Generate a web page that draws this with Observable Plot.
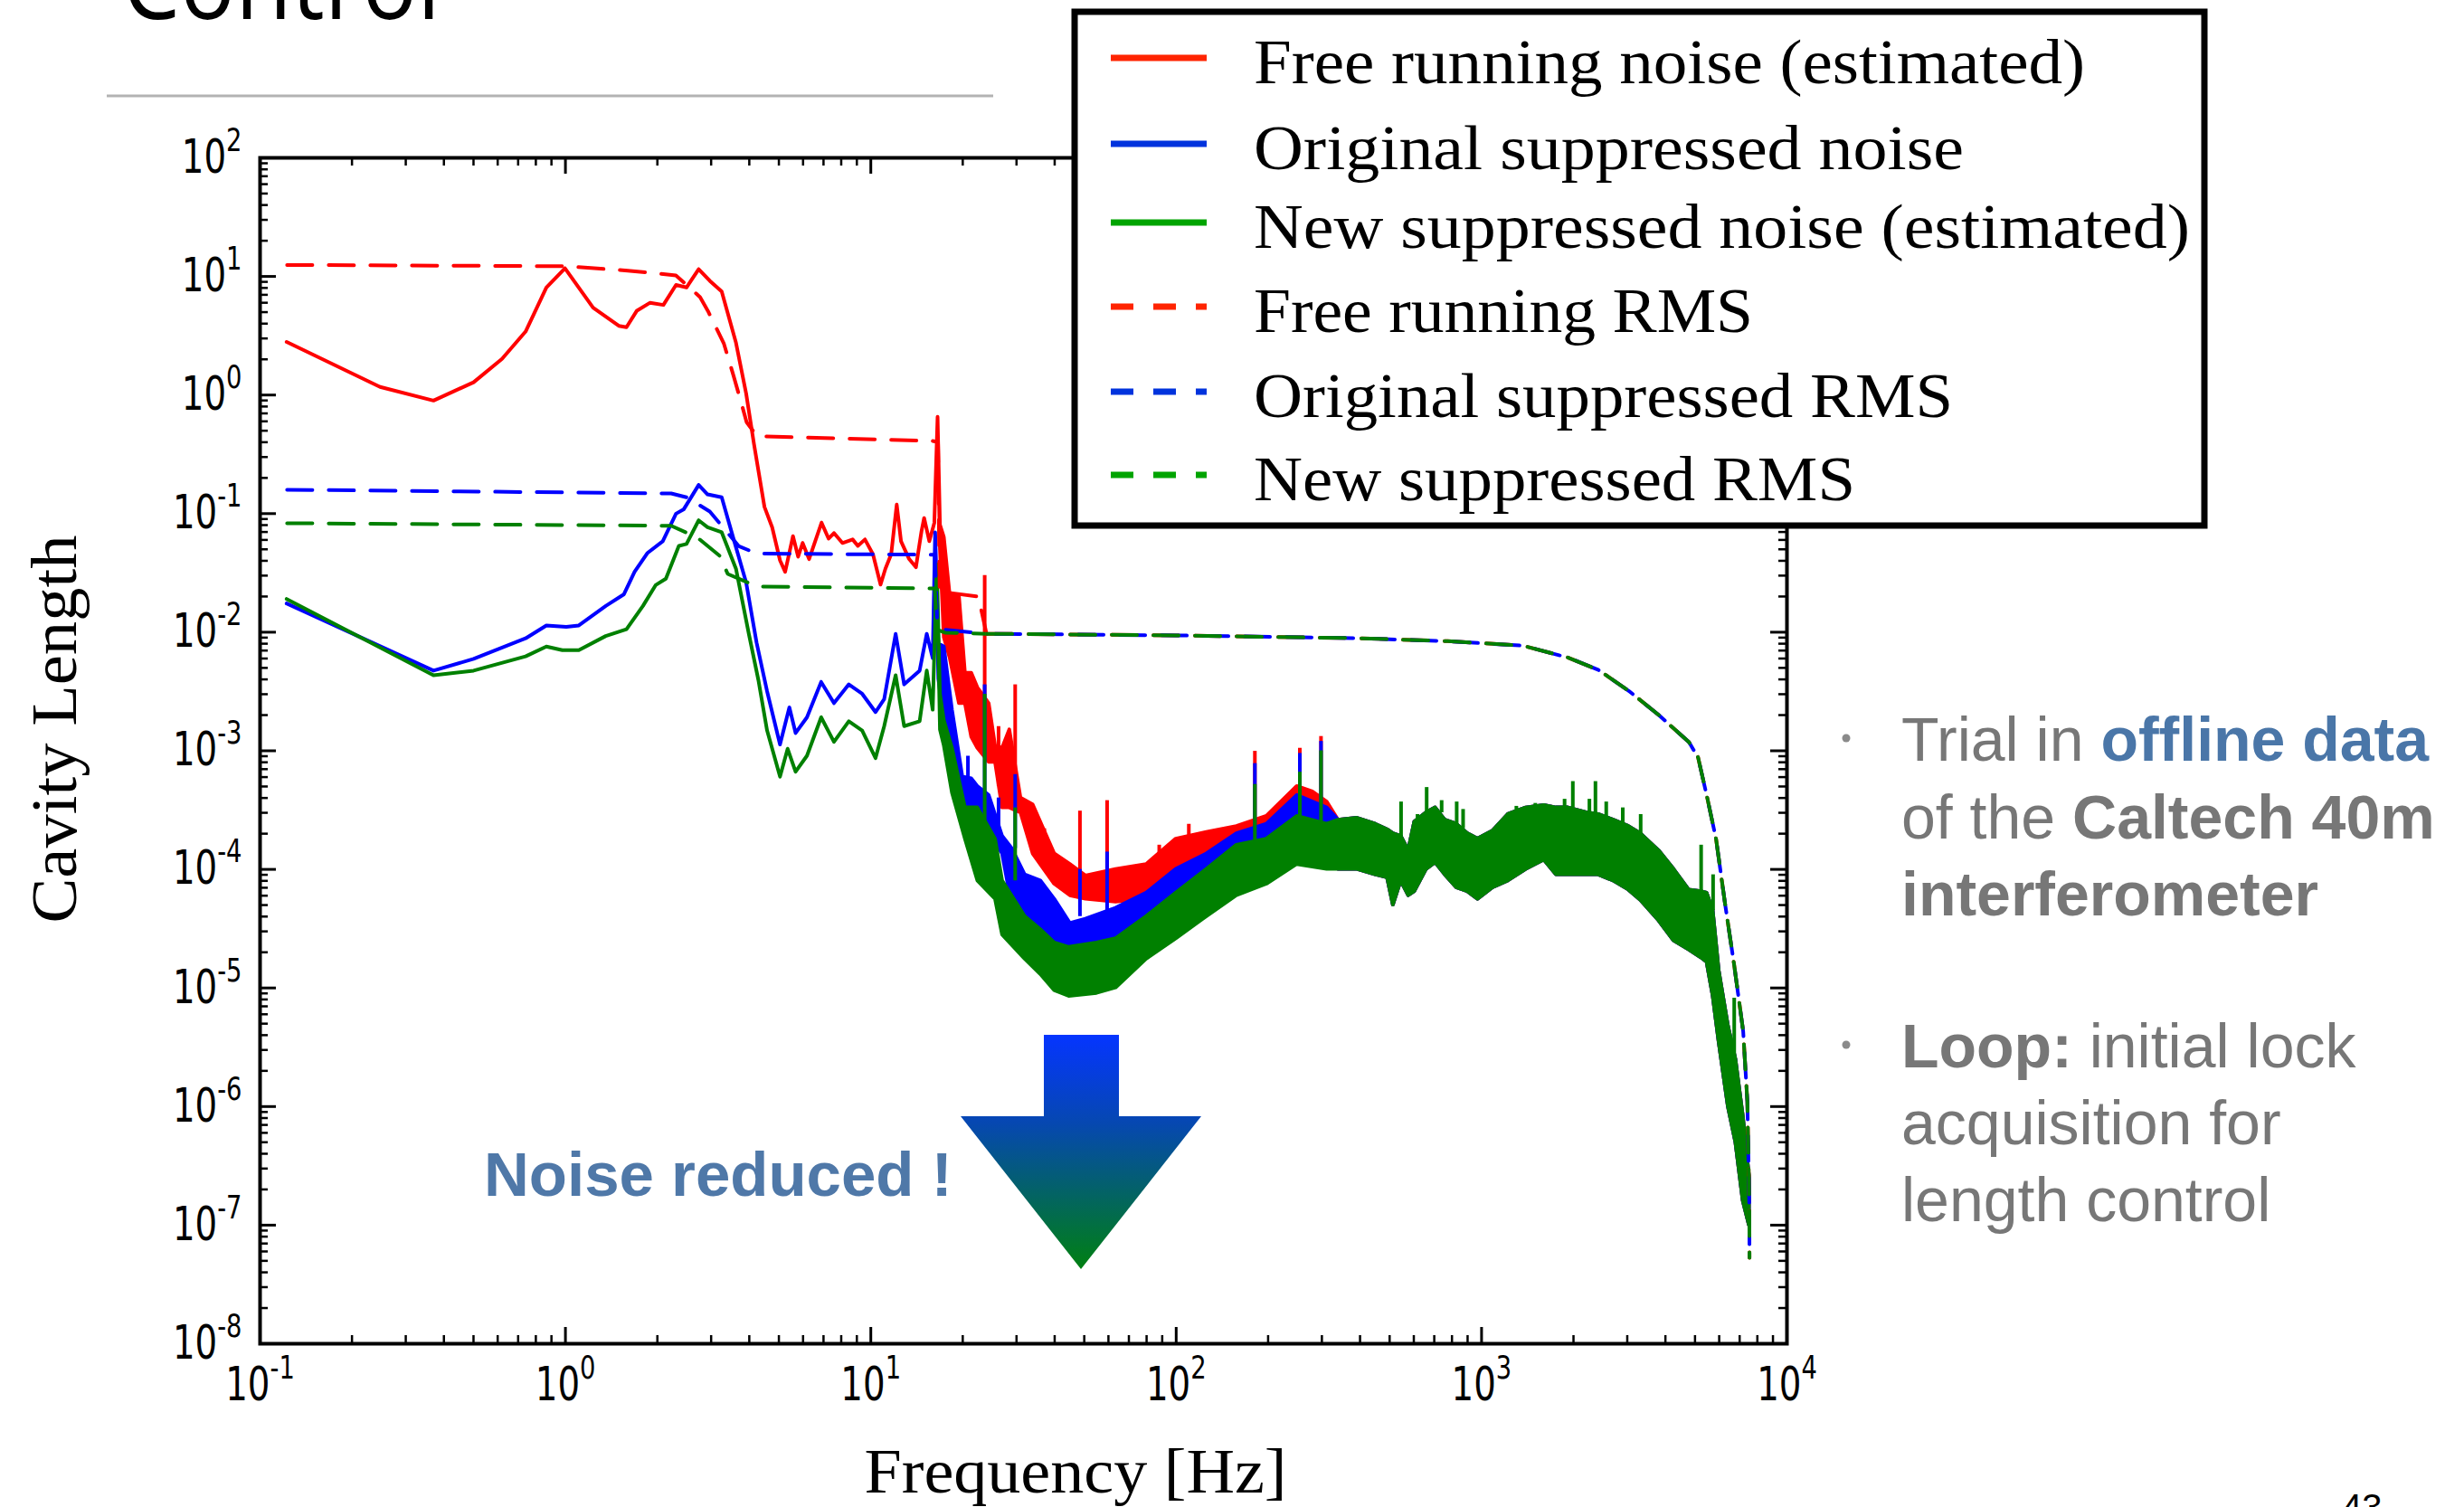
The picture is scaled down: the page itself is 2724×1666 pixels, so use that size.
<!DOCTYPE html>
<html>
<head>
<meta charset="utf-8">
<script src="https://cdn.jsdelivr.net/npm/d3@7"></script>
<script src="https://cdn.jsdelivr.net/npm/@observablehq/plot@0.6"></script>
<style>
  html, body { margin: 0; padding: 0; background: #fff; }
  #slide { position: relative; width: 2724px; height: 1666px; overflow: hidden; background: #fff; }
  #chart { position: absolute; left: 0; top: 0; }
  #overlay { position: absolute; left: 0; top: 0; }
</style>
</head>
<body>
<div id="slide">
  <div id="chart"></div>
  <svg id="overlay" width="2724" height="1666" xmlns="http://www.w3.org/2000/svg"></svg>
</div>
<script>
// ---------------- DATA ----------------
// [frequency Hz, value] for a thin line, or [frequency Hz, low, high] for the dense noise band
const freeRunningNoise = [
  [0.1226, 2.78], [0.248, 1.16], [0.371, 0.89], [0.502, 1.27], [0.622, 2.0], [0.743, 3.4],
  [0.869, 8.0], [1.0, 11.6], [1.236, 5.4], [1.50, 3.8], [1.59, 3.7], [1.72, 5.1], [1.90, 5.95],
  [2.10, 5.7], [2.31, 8.4], [2.50, 8.0], [2.74, 11.4], [2.98, 9.1], [3.26, 7.4], [3.63, 2.74],
  [3.92, 1.02], [4.16, 0.38], [4.50, 0.113], [4.77, 0.076], [5.06, 0.040], [5.26, 0.032],
  [5.58, 0.064], [5.8, 0.043], [6.0, 0.056], [6.3, 0.041], [6.92, 0.083], [7.3, 0.061],
  [7.6, 0.068], [8.1, 0.056], [8.75, 0.06], [9.1, 0.053], [9.6, 0.06], [10.2, 0.045],
  [10.8, 0.025], [11.2, 0.034], [11.7, 0.045], [12.2, 0.118], [12.6, 0.058], [13.4, 0.041],
  [14.1, 0.035], [14.7, 0.07], [15.0, 0.091], [15.6, 0.058], [16.2, 0.083], [16.6, 0.65],
  [16.9, 0.05, 0.08], [17.4, 0.009, 0.063], [18.2, 0.006, 0.02], [19.5, 0.0025, 0.02],
  [20.4, 0.0025, 0.0045], [21.4, 0.0013, 0.0045], [22.4, 0.00105, 0.0034], [24.4, 0.0008, 0.0025],
  [25.6, 0.0008, 0.0011], [27, 0.00033, 0.00105], [28.5, 0.00033, 0.0015], [31, 0.0003, 0.0004],
  [34, 0.000135, 0.00035], [40, 0.000075, 0.000135], [45, 0.00006, 0.00011], [50.6, 0.000056, 0.000088],
  [63.5, 0.000053, 0.0001], [80, 0.000056, 0.00011], [100, 0.000075, 0.00018], [126, 0.0001, 0.000205],
  [158, 0.000135, 0.00023], [198, 0.00018, 0.00028], [249, 0.00022, 0.0005], [280, 0.00022, 0.00045],
  [312, 0.0002, 0.00037]
];
const freeRunningSpikes = [ // [frequency, bottom, top]
  [20.8, 0.002, 0.0045], [23.6, 0.0025, 0.03], [26.2, 0.0005, 0.0016], [29.7, 0.0004, 0.0036],
  [37, 0.0001, 0.00022], [48.4, 0.00008, 0.00031], [59.4, 0.0001, 0.00038], [88, 0.00008, 0.00016],
  [110, 0.0001, 0.00024], [181, 0.00023, 0.00099], [254, 0.0004, 0.00105], [298, 0.0004, 0.00132]
];

const originalNoise = [
  [0.1226, 0.0173], [0.371, 0.0047], [0.502, 0.0059], [0.743, 0.0088], [0.869, 0.0113],
  [1.01, 0.011], [1.11, 0.0113], [1.36, 0.0165], [1.56, 0.0207], [1.69, 0.032], [1.86, 0.046],
  [2.09, 0.058], [2.31, 0.099], [2.45, 0.108], [2.74, 0.173], [2.93, 0.144], [3.26, 0.136],
  [3.55, 0.063], [3.92, 0.026], [4.24, 0.0081], [4.59, 0.00315], [5.06, 0.00112], [5.43, 0.0023],
  [5.69, 0.0014], [6.2, 0.0019], [6.9, 0.00377], [7.6, 0.0025], [8.5, 0.0036], [9.4, 0.003],
  [10.4, 0.0021], [11.1, 0.0027], [12.1, 0.0096], [12.9, 0.0036], [14.5, 0.0047], [15.3, 0.0096],
  [16.0, 0.006], [16.3, 0.069],
  [16.7, 0.004, 0.008], [17.4, 0.0018, 0.0075], [18.5, 0.0011, 0.0022], [20, 0.0003, 0.0006],
  [21.4, 0.00033, 0.00058], [22.4, 0.00025, 0.0005], [24.4, 0.0002, 0.00042], [27, 0.000135, 0.00019],
  [29, 0.00005, 0.00015], [32, 0.000031, 0.00009], [36, 0.000026, 0.00008], [40, 0.00002, 0.000056],
  [45, 0.0000175, 0.000035], [50.6, 0.000018, 0.000038], [63.5, 0.00002, 0.000047],
  [80, 0.000031, 0.000063], [100, 0.000046, 0.0001], [126, 0.000065, 0.000135], [158, 0.0001, 0.0002],
  [198, 0.000135, 0.00024], [249, 0.0002, 0.00042], [312, 0.00022, 0.00033]
];
const originalSpikes = [
  [20.8, 0.0004, 0.0009], [23.6, 0.0004, 0.0036], [26.2, 0.00015, 0.0004], [29.7, 0.00015, 0.00063],
  [48.4, 0.00004, 0.0001], [59.4, 0.00004, 0.00014], [181, 0.0002, 0.00078], [254, 0.0003, 0.00095],
  [298, 0.0003, 0.0012]
];

const newNoise = [
  [0.1226, 0.0189], [0.371, 0.0043], [0.502, 0.0047], [0.743, 0.0062], [0.869, 0.0075],
  [0.98, 0.007], [1.11, 0.007], [1.36, 0.0092], [1.59, 0.0105], [1.8, 0.0165], [1.98, 0.0247],
  [2.14, 0.028], [2.36, 0.053], [2.5, 0.055], [2.74, 0.087], [2.93, 0.076], [3.26, 0.069],
  [3.63, 0.034], [4.0, 0.0096], [4.3, 0.0039], [4.59, 0.00147], [5.06, 0.0006], [5.36, 0.00103],
  [5.69, 0.00066], [6.2, 0.0009], [6.9, 0.0019], [7.6, 0.00118], [8.5, 0.00176], [9.4, 0.00147],
  [10.4, 0.00086], [11.1, 0.0016], [12.1, 0.0043], [12.9, 0.0016], [14.5, 0.00176], [15.3, 0.0047],
  [16.0, 0.0022], [16.5, 0.037],
  [16.9, 0.0015, 0.003], [17.4, 0.0011, 0.0018], [18.5, 0.00044, 0.00105], [20.4, 0.00018, 0.00033],
  [22.4, 0.00008, 0.00033], [25.6, 0.000056, 0.00018], [27, 0.000028, 0.00008], [32, 0.0000175, 0.00004],
  [36, 0.000013, 0.000031], [40, 0.0000095, 0.000024], [44.6, 0.0000085, 0.000022], [55, 0.000009, 0.000024],
  [63.5, 0.00001, 0.000026], [80, 0.0000175, 0.00004], [100, 0.000026, 0.000063], [126, 0.00004, 0.0001],
  [158, 0.00006, 0.00016], [198, 0.000075, 0.00018], [249, 0.00011, 0.00028], [312, 0.0001, 0.00024]
];
const newSpikes = [
  [23.6, 0.0002, 0.003], [29.7, 0.00008, 0.00033], [181, 0.0001, 0.00052], [254, 0.00015, 0.00066],
  [298, 0.00015, 0.001]
];

// above ~340 Hz the three noise spectra lie on top of each other
const sharedHighFreqBand = [
  [340, 1.0e-4, 2.6e-4], [392, 1.0e-4, 2.7e-4], [450, 9e-5, 2.4e-4], [492, 8.5e-5, 2.16e-4],
  [514, 5e-5, 2.0e-4], [545, 8e-5, 1.9e-4], [577, 6e-5, 1.44e-4], [604, 6.5e-5, 2.5e-4],
  [660, 1e-4, 3.0e-4], [707, 1.14e-4, 3.3e-4], [760, 9e-5, 2.6e-4], [829, 7e-5, 2.4e-4],
  [900, 6.5e-5, 2.0e-4], [973, 5.6e-5, 1.8e-4], [1089, 7e-5, 2.1e-4], [1222, 8e-5, 2.9e-4],
  [1400, 1.0e-4, 3.3e-4], [1604, 1.2e-4, 3.46e-4], [1757, 9e-5, 3.3e-4], [1923, 9e-5, 3.3e-4],
  [2203, 9e-5, 3.0e-4], [2415, 9e-5, 2.9e-4], [2705, 8e-5, 2.6e-4], [3034, 6.7e-5, 2.3e-4],
  [3319, 5.5e-5, 2.0e-4], [3806, 3.7e-5, 1.44e-4], [4265, 2.5e-5, 1.0e-4], [4780, 2.1e-5, 6.7e-5],
  [5236, 1.8e-5, 6.5e-5], [5473, 1.65e-5, 6.3e-5], [5730, 8.6e-6, 4.5e-5], [5995, 3.5e-6, 1.4e-5],
  [6425, 1.0e-6, 4.8e-6], [6800, 5e-7, 2.5e-6], [7190, 1.6e-7, 8.3e-7], [7530, 1.0e-7, 2.6e-7]
];
const sharedHighFreqSpikes = [
  [545, 1.9e-4, 3.7e-4], [617, 2.0e-4, 2.9e-4], [661, 2.5e-4, 4.9e-4], [740, 3.0e-4, 3.8e-4],
  [829, 2.4e-4, 3.7e-4], [870, 2.2e-4, 3.2e-4], [1300, 2.5e-4, 3.4e-4], [1500, 2.8e-4, 3.6e-4],
  [1870, 3.0e-4, 3.9e-4], [1990, 3.3e-4, 5.5e-4], [2255, 2.9e-4, 3.9e-4], [2360, 3e-4, 5.5e-4],
  [2560, 2.7e-4, 3.7e-4], [2900, 2.4e-4, 3.3e-4], [3319, 2e-4, 2.9e-4], [5236, 6.5e-5, 1.6e-4],
  [5730, 4.5e-5, 9e-5], [6720, 2e-6, 8.2e-6]
];

// cumulative RMS curves [frequency, value]
const freeRunningRMS = [
  [0.1226, 12.5], [1.0, 12.2], [1.6, 11.2], [2.3, 10.2], [2.76, 6.7], [2.93, 5.1], [3.3, 2.73],
  [3.55, 1.46], [3.77, 0.85], [3.92, 0.59], [4.24, 0.45], [15.9, 0.41], [16.6, 0.40], [16.8, 0.022],
  [22.5, 0.020], [23.9, 0.0098]
];
const originalRMS = [
  [0.1226, 0.159], [2.22, 0.148], [2.5, 0.137], [2.97, 0.104], [3.7, 0.053], [4.24, 0.046],
  [16.2, 0.045], [16.5, 0.012], [17.5, 0.0105]
];
const newRMS = [
  [0.1226, 0.083], [2.22, 0.079], [2.7, 0.063], [3.2, 0.044], [3.4, 0.031], [4.24, 0.0243],
  [16.2, 0.0234], [16.5, 0.0105], [17.5, 0.0099]
];
const sharedRMS = [
  [24, 0.0097], [100, 0.0094], [392, 0.0089], [774, 0.0084], [1368, 0.0077], [1923, 0.0061],
  [2415, 0.0048], [3034, 0.0032], [3806, 0.0020], [4780, 0.00118], [5116, 8.8e-4], [5473, 4.1e-4],
  [5861, 1.8e-4], [6280, 5e-5], [6720, 1.55e-5], [7190, 4.3e-6], [7420, 1.1e-6], [7530, 1.45e-7],
  [7540, 5.3e-8]
];

const xMajorTicks = [0.1, 1, 10, 100, 1000, 10000];
const yMajorTicks = [1e-8, 1e-7, 1e-6, 1e-5, 1e-4, 1e-3, 1e-2, 1e-1, 1, 10, 100];

const legendItems = [
  {label: "Free running noise (estimated)", color: "#ff2400", dashed: false, width: 919},
  {label: "Original suppressed noise", color: "#0033dd", dashed: false, width: 785},
  {label: "New suppressed noise (estimated)", color: "#00a400", dashed: false, width: 1035},
  {label: "Free running RMS", color: "#ff2400", dashed: true, width: 552},
  {label: "Original suppressed RMS", color: "#0033dd", dashed: true, width: 773},
  {label: "New suppressed RMS", color: "#00a400", dashed: true, width: 665}
];

// ---------------- CHART ----------------
const RED = "#ff0000", BLUE = "#0000ff", GREEN = "#008000";
const W = 2724, H = 1666;
const mL = 287, mR = 749, mT = 174, mB = 181;
const plotW = W - mL - mR, plotH = H - mT - mB;
const LW = 4;

const band = arr => arr.map(d => ({f: d[0], lo: d[1], hi: d.length > 2 ? d[2] : d[1]}));
const pts = arr => arr.map(d => ({f: d[0], v: d[1]}));
const minorOf = majors => majors.slice(0, -1).flatMap(m => d3.range(2, 10).map(k => k * m));
const xMinor = minorOf(xMajorTicks), yMinor = minorOf(yMajorTicks);

const bandMark = (rows, color) => Plot.areaY(rows, {x: "f", y1: "lo", y2: "hi", fill: color, stroke: color, strokeWidth: LW, strokeLinejoin: "round"});
const spikeMark = (rows, color) => Plot.ruleX(rows, {x: d => d[0], y1: d => d[1], y2: d => d[2], stroke: color, strokeWidth: LW});
const rmsMark = (rows, color, offset = 0) => Plot.line(rows, {x: "f", y: "v", stroke: color, strokeWidth: LW, strokeDasharray: "28,18", strokeDashoffset: offset});
const supFmt = d => "10^" + Math.round(Math.log10(d));
const withJoin = arr => [...arr, sharedRMS[0]];

const plot = Plot.plot({
  width: W, height: H,
  marginLeft: mL, marginRight: mR, marginTop: mT, marginBottom: mB,
  x: {type: "log", domain: [0.1, 1e4]},
  y: {type: "log", domain: [1e-8, 1e2]},
  style: {background: "white", fontFamily: "DejaVu Sans", fontSize: "51px", color: "black", overflow: "visible"},
  marks: [
    bandMark(band([...freeRunningNoise, ...sharedHighFreqBand]), RED),
    spikeMark(freeRunningSpikes, RED),
    bandMark(band([...originalNoise, ...sharedHighFreqBand]), BLUE),
    spikeMark(originalSpikes, BLUE),
    bandMark(band([...newNoise, ...sharedHighFreqBand]), GREEN),
    spikeMark(newSpikes, GREEN),
    spikeMark(sharedHighFreqSpikes, GREEN),
    rmsMark(pts(withJoin(freeRunningRMS)), RED),
    rmsMark(pts(withJoin(originalRMS)), BLUE),
    rmsMark(pts(withJoin(newRMS)), GREEN),
    rmsMark(pts(sharedRMS), RED, 0),
    rmsMark(pts(sharedRMS), BLUE, -9),
    rmsMark(pts(sharedRMS), GREEN, 0),
    // inward ticks on all four sides
    Plot.tickY(yMajorTicks, {y: d => d, stroke: "black", strokeWidth: 3, insetRight: plotW - 18}),
    Plot.tickY(yMinor, {y: d => d, stroke: "black", strokeWidth: 2.5, insetRight: plotW - 9}),
    Plot.tickY(yMajorTicks, {y: d => d, stroke: "black", strokeWidth: 3, insetLeft: plotW - 18}),
    Plot.tickY(yMinor, {y: d => d, stroke: "black", strokeWidth: 2.5, insetLeft: plotW - 9}),
    Plot.tickX(xMajorTicks, {x: d => d, stroke: "black", strokeWidth: 3, insetTop: plotH - 18}),
    Plot.tickX(xMinor, {x: d => d, stroke: "black", strokeWidth: 2.5, insetTop: plotH - 9}),
    Plot.tickX(xMajorTicks, {x: d => d, stroke: "black", strokeWidth: 3, insetBottom: plotH - 18}),
    Plot.tickX(xMinor, {x: d => d, stroke: "black", strokeWidth: 2.5, insetBottom: plotH - 9}),
    Plot.frame({stroke: "black", strokeWidth: 4}),
    Plot.axisY({ticks: yMajorTicks, tickSize: 0, tickPadding: 20, tickFormat: supFmt, label: null}),
    Plot.axisX({ticks: xMajorTicks, tickSize: 0, tickPadding: 26, tickFormat: supFmt, label: null})
  ]
});
document.getElementById("chart").appendChild(plot);

// render tick labels as 10 with a raised exponent, horizontally condensed like the source
const NS = "http://www.w3.org/2000/svg";
plot.querySelectorAll('g[aria-label="y-axis tick label"] text, g[aria-label="x-axis tick label"] text').forEach(t => {
  const parts = t.textContent.split("^");
  if (parts.length !== 2) return;
  t.textContent = "10";
  const sup = document.createElementNS(NS, "tspan");
  sup.setAttribute("dy", "-24");
  sup.setAttribute("font-size", "36");
  sup.textContent = parts[1];
  t.appendChild(sup);
  let tr = t.getAttribute("transform");
  if (!tr) {
    const x = t.getAttribute("x") || 0, y = t.getAttribute("y") || 0;
    t.removeAttribute("x"); t.removeAttribute("y");
    tr = `translate(${x},${y})`;
  }
  t.setAttribute("transform", tr + " scale(0.76,1)");
});

// ---------------- SLIDE OVERLAY (title, legend, annotations, text) ----------------
const ov = d3.select("#overlay");

// title (cut off at the top) and separator
ov.append("text").attr("x", 135).attr("y", 21).attr("font-family", "Open Sans").attr("font-size", 115)
  .attr("textLength", 352).attr("lengthAdjust", "spacingAndGlyphs").attr("fill", "#000").text("Control");
ov.append("line").attr("x1", 118).attr("x2", 1098).attr("y1", 106).attr("y2", 106)
  .attr("stroke", "#b3b3b3").attr("stroke-width", 3);

// axis titles
ov.append("text").attr("transform", "translate(84,806) rotate(-90)").attr("text-anchor", "middle")
  .attr("font-family", "Liberation Serif").attr("font-size", 71)
  .attr("textLength", 429).attr("lengthAdjust", "spacingAndGlyphs").text("Cavity Length");
ov.append("text").attr("x", 1189).attr("y", 1650).attr("text-anchor", "middle")
  .attr("font-family", "Liberation Serif").attr("font-size", 69)
  .attr("textLength", 467).attr("lengthAdjust", "spacingAndGlyphs").text("Frequency [Hz]");

// legend
ov.append("rect").attr("x", 1188).attr("y", 13).attr("width", 1249).attr("height", 568)
  .attr("fill", "white").attr("stroke", "black").attr("stroke-width", 7);
const legendBaselines = [92, 187, 274, 367, 461, 553];
legendItems.forEach((it, i) => {
  const yb = legendBaselines[i];
  ov.append("line").attr("x1", 1228).attr("x2", 1334).attr("y1", yb - 28).attr("y2", yb - 28)
    .attr("stroke", it.color).attr("stroke-width", 7)
    .attr("stroke-dasharray", it.dashed ? "25,22" : null);
  ov.append("text").attr("x", 1386).attr("y", yb).attr("font-family", "Liberation Serif")
    .attr("font-size", 70).attr("textLength", it.width).attr("lengthAdjust", "spacingAndGlyphs")
    .attr("fill", "#000").text(it.label);
});

// "Noise reduced !" arrow with gradient
const defs = ov.append("defs");
const grad = defs.append("linearGradient").attr("id", "arrowGrad").attr("x1", 0).attr("y1", 0).attr("x2", 0).attr("y2", 1);
grad.append("stop").attr("offset", "0%").attr("stop-color", "#0535ff");
grad.append("stop").attr("offset", "38%").attr("stop-color", "#0648b0");
grad.append("stop").attr("offset", "100%").attr("stop-color", "#008012");
ov.append("polygon")
  .attr("points", "1154,1144 1237,1144 1237,1234 1328,1234 1195,1403 1062,1234 1154,1234")
  .attr("fill", "url(#arrowGrad)");
ov.append("text").attr("x", 535).attr("y", 1322).attr("font-family", "Liberation Sans")
  .attr("font-weight", "bold").attr("font-size", 69).attr("fill", "#4f78a8").text("Noise reduced !");

// bullet text on the right
const GRAY = "#777777", BLUE_TXT = "#4a76a8";
const bulletLines = [
  {y: 841, parts: [["Trial in ", false, GRAY], ["offline data", true, BLUE_TXT]]},
  {y: 927, parts: [["of the ", false, GRAY], ["Caltech 40m", true, GRAY]]},
  {y: 1012, parts: [["interferometer", true, GRAY]]},
  {y: 1180, parts: [["Loop:", true, GRAY], [" initial lock", false, GRAY]]},
  {y: 1265, parts: [["acquisition for", false, GRAY]]},
  {y: 1350, parts: [["length control", false, GRAY]]}
];
bulletLines.forEach(l => {
  const t = ov.append("text").attr("x", 2102).attr("y", l.y).attr("font-family", "Liberation Sans").attr("font-size", 68);
  l.parts.forEach(p => t.append("tspan").attr("font-weight", p[1] ? "bold" : "normal").attr("fill", p[2]).text(p[0]));
});
[816, 1155].forEach(y => ov.append("circle").attr("cx", 2041).attr("cy", y).attr("r", 4.5).attr("fill", "#8a8a8a"));

// page number
ov.append("text").attr("x", 2589).attr("y", 1680).attr("font-family", "Liberation Sans").attr("font-size", 40).attr("fill", "#000").text("43");
</script>
</body>
</html>
